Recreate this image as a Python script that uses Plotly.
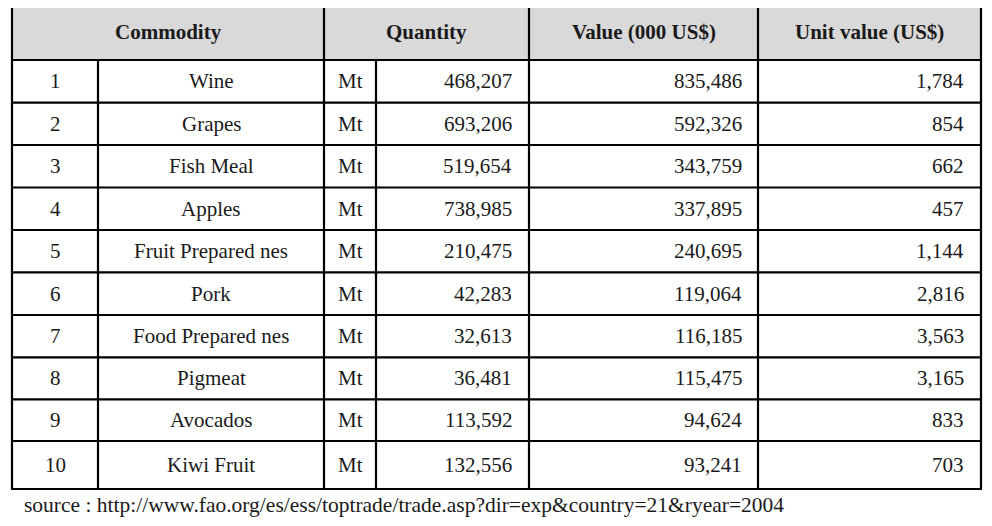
import plotly.graph_objects as go

ranks = [1, 2, 3, 4, 5, 6, 7, 8, 9, 10]
commodities = ["Wine", "Grapes", "Fish Meal", "Apples", "Fruit Prepared nes", "Pork",
               "Food Prepared nes", "Pigmeat", "Avocados", "Kiwi Fruit"]
units = ["Mt"] * 10
quantity = [468207, 693206, 519654, 738985, 210475, 42283, 32613, 36481, 113592, 132556]
value_kusd = [835486, 592326, 343759, 337895, 240695, 119064, 116185, 115475, 94624, 93241]
unit_value = [1784, 854, 662, 457, 1144, 2816, 3563, 3165, 833, 703]
headers = ["Commodity", "Quantity", "Value (000 US$)", "Unit value (US$)"]
source = "source : http://www.fao.org/es/ess/toptrade/trade.asp?dir=exp&country=21&ryear=2004"

W, H = 992, 526
PAD = 8  # page body margin, the figure sits 8px in from the window edge
# column edges (window pixels)
cx = [12, 98, 324, 376, 529, 758, 981]
# row rules (window pixels): top of header, header bottom, then each body row
ry = [3, 60, 102.6, 145, 187.5, 230, 272.4, 315, 357.3, 399.4, 441, 489]

FONT = "Liberation Serif"
ink = "#1a1a1a"

fig = go.Figure()
shapes = []
# header background
shapes.append(dict(type="rect", x0=cx[0], x1=cx[-1], y0=ry[0], y1=ry[1],
                   fillcolor="#d9d9d9", line=dict(width=0), layer="below"))
lw = 2.2
for y in ry:
    shapes.append(dict(type="line", x0=cx[0] - 1, x1=cx[-1] + 1, y0=y, y1=y,
                       line=dict(color="black", width=lw)))
# vertical lines: the header row merges some columns
header_cols = [cx[0], cx[2], cx[4], cx[5], cx[6]]
for x in cx:
    y0 = ry[0] if x in header_cols else ry[1]
    shapes.append(dict(type="line", x0=x, x1=x, y0=y0, y1=ry[-1],
                       line=dict(color="black", width=lw)))

ann = []
def txt(x, y, s, anchor="center", size=21, bold=False):
    ann.append(dict(x=x, y=y, text="<b>%s</b>" % s if bold else s, showarrow=False,
                    xanchor=anchor, yanchor="middle",
                    font=dict(family=FONT, size=size, color=ink)))

hy = (ry[0] + ry[1]) / 2
txt((cx[0] + cx[2]) / 2, hy, headers[0], bold=True)
txt((cx[2] + cx[4]) / 2, hy, headers[1], bold=True)
txt((cx[4] + cx[5]) / 2, hy, headers[2], bold=True)
txt((cx[5] + cx[6]) / 2, hy, headers[3], bold=True)

for i in range(len(ranks)):
    y = (ry[i + 1] + ry[i + 2]) / 2
    txt((cx[0] + cx[1]) / 2, y, str(ranks[i]))
    txt((cx[1] + cx[2]) / 2, y, commodities[i])
    txt((cx[2] + cx[3]) / 2, y, units[i])
    txt(cx[4] - 15, y, f"{quantity[i]:,}", anchor="right")
    txt(cx[5] - 14, y, f"{value_kusd[i]:,}", anchor="right")
    txt(cx[6] - 15, y, f"{unit_value[i]:,}", anchor="right")

txt(22, 505, source, anchor="left", size=21.5)

fig.update_layout(
    width=W - 2 * PAD, height=H - 2 * PAD, margin=dict(l=0, r=0, t=0, b=0),
    paper_bgcolor="white", plot_bgcolor="white",
    xaxis=dict(range=[PAD, W - PAD], visible=False, fixedrange=True),
    yaxis=dict(range=[H - PAD, PAD], visible=False, fixedrange=True),
    shapes=shapes, annotations=ann, showlegend=False,
)
fig.write_html("out.html")
